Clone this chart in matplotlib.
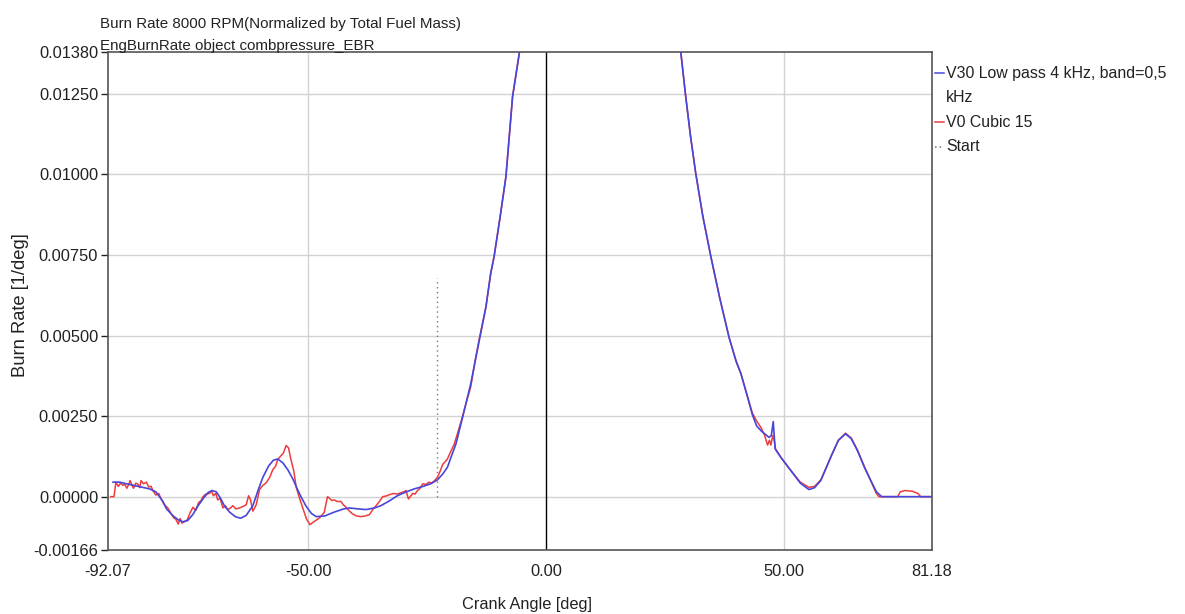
import matplotlib
matplotlib.use("Agg")
import matplotlib.pyplot as plt
from matplotlib.lines import Line2D

# Filtered burn rate (V30 low pass) - crank angle [deg] / burn rate [1/deg]
v30_angle = [-91.0, -89.6, -87.0, -84.5, -83.3, -82.0, -80.5, -79.8, -78.5, -77.3,
             -76.3, -75.3, -74.2, -73.2, -72.0, -71.0, -70.2, -69.3, -68.4, -67.6,
             -66.5, -65.3, -64.2, -63.0, -61.6, -60.5, -59.5, -58.3, -57.3, -56.4,
             -55.3, -54.2, -53.2, -52.3, -51.5, -50.4, -49.3, -48.3, -46.5, -44.5,
             -42.5, -41.3, -39.5, -37.8, -36.0, -34.7, -33.0, -31.2, -29.5, -27.7,
             -26.0, -24.2, -22.8, -21.7, -20.7, -20.0, -18.9, -17.5, -15.8, -14.0,
             -12.6, -11.6, -10.9, -9.6, -8.4, -7.0, -5.6, -5.2,
             28.0, 28.4, 29.4, 30.4, 31.5, 33.0, 34.7, 36.5, 38.5, 40.0,
             41.0, 42.2, 43.4, 44.3, 45.2, 46.9, 47.4, 47.8, 48.2, 49.5,
             51.5, 53.5, 55.3, 56.5, 57.8, 60.2, 61.5, 63.0, 64.2, 65.5,
             67.0, 68.3, 69.5, 70.6, 81.18]
v30_rate = [0.00045, 0.00045, 0.00036, 0.00028, 0.00024, 0.00015, -0.00015, -0.00037, -0.00058, -0.00072,
            -0.00078, -0.00074, -0.00055, -0.00030, -0.00005, 0.00013, 0.00019, 0.00015, -0.00005, -0.00028,
            -0.00048, -0.00062, -0.00067, -0.00058, -0.00028, 0.00020, 0.00060, 0.00095, 0.00113, 0.00117,
            0.00105, 0.00082, 0.00055, 0.00025, 0.00000, -0.00030, -0.00052, -0.00062, -0.00060, -0.00048,
            -0.00038, -0.00035, -0.00038, -0.00040, -0.00035, -0.00028, -0.00014, 0.00003, 0.00014, 0.00024,
            0.00031, 0.00040, 0.00052, 0.00070, 0.00091, 0.00120, 0.00164, 0.00247, 0.00350, 0.00485,
            0.00589, 0.00693, 0.00744, 0.00870, 0.00993, 0.01242, 0.01375, 0.01420,
            0.01420, 0.01375, 0.01242, 0.01120, 0.01004, 0.00870, 0.00744, 0.00620, 0.00495, 0.00420,
            0.00382, 0.00320, 0.00255, 0.00220, 0.00205, 0.00184, 0.00190, 0.00233, 0.00148, 0.00120,
            0.00081, 0.00042, 0.00022, 0.00028, 0.00050, 0.00133, 0.00175, 0.00195, 0.00180, 0.00143,
            0.00090, 0.00050, 0.00015, 0.00000, 0.00000]

# Unfiltered cubic-fit burn rate (V0)
v0_angle = [-91.5, -90.8, -90.4, -89.9, -89.4, -88.9, -88.5, -88.1, -87.7, -87.4,
            -87.0, -86.7, -86.2, -85.8, -85.4, -85.1, -84.6, -84.0, -83.5, -83.0,
            -82.6, -82.0, -81.4, -80.8, -80.2, -79.5, -78.9, -78.3, -77.8, -77.3,
            -76.9, -76.5, -76.0, -75.4, -74.8, -74.2, -73.6, -73.0, -72.5, -72.1,
            -71.5, -70.7, -70.3, -69.9, -69.4, -69.0, -68.5, -67.9, -67.4, -66.9,
            -66.3, -65.8, -65.2, -64.4, -63.6, -63.0, -62.5, -62.1, -61.6, -60.9,
            -60.2, -59.5, -58.8, -58.1, -57.4, -56.8, -56.4, -55.7, -55.2, -54.6,
            -54.1, -53.6, -53.0, -52.5, -51.9, -51.0, -50.3, -49.6, -49.0, -48.4,
            -47.6, -46.6, -46.2, -45.9, -45.5, -45.0, -44.5, -43.9, -43.1, -42.6,
            -42.0, -41.3, -40.6, -39.8, -38.9, -38.0, -37.1, -36.4, -35.7, -35.0,
            -34.3, -33.6, -32.9, -32.0, -31.2, -30.5, -29.9, -29.4, -28.9, -28.5,
            -28.0, -27.5, -27.0, -26.5, -25.9, -25.2, -24.6, -24.0, -23.4, -22.8,
            -22.2, -21.7, -21.2, -20.7, -20.0, -19.3, -18.6, -17.5, -16.6, -15.8,
            -14.9, -14.0, -12.6, -11.6, -10.9, -9.6, -8.4, -7.0, -5.6, -5.2,
            28.0, 28.4, 29.4, 30.4, 31.5, 33.0, 34.7, 36.5, 38.5, 40.0,
            41.0, 42.2, 43.4, 44.3, 45.2, 46.0, 46.6, 47.0, 47.3, 47.7,
            48.0, 48.3, 49.5, 51.5, 53.5, 55.3, 56.5, 57.8, 60.2, 61.5,
            63.0, 64.2, 65.5, 67.0, 68.3, 69.4, 70.0, 74.0, 74.5, 75.5,
            77.0, 78.2, 78.8, 81.18]
v0_rate = [0.00000, 0.00000, 0.00045, 0.00032, 0.00042, 0.00035, 0.00038, 0.00026, 0.00038, 0.00050,
           0.00035, 0.00026, 0.00042, 0.00039, 0.00028, 0.00050, 0.00040, 0.00045, 0.00030, 0.00032,
           0.00018, 0.00005, 0.00010, -0.00010, -0.00025, -0.00035, -0.00050, -0.00065, -0.00070, -0.00085,
           -0.00068, -0.00082, -0.00078, -0.00072, -0.00050, -0.00033, -0.00042, -0.00018, -0.00012, 0.00000,
           0.00008, 0.00010, 0.00018, 0.00003, 0.00010, -0.00010, -0.00005, -0.00035, -0.00028, -0.00040,
           -0.00035, -0.00028, -0.00038, -0.00035, -0.00030, -0.00025, 0.00003, -0.00010, -0.00045, -0.00025,
           0.00022, 0.00035, 0.00043, 0.00059, 0.00084, 0.00095, 0.00115, 0.00127, 0.00135, 0.00159,
           0.00151, 0.00115, 0.00080, 0.00030, 0.00000, -0.00040, -0.00070, -0.00087, -0.00080, -0.00074,
           -0.00066, -0.00049, -0.00020, 0.00000, -0.00005, -0.00012, -0.00010, -0.00015, -0.00015, -0.00025,
           -0.00033, -0.00045, -0.00054, -0.00060, -0.00062, -0.00060, -0.00056, -0.00040, -0.00028, -0.00015,
           0.00000, 0.00002, 0.00006, 0.00010, 0.00008, 0.00012, 0.00015, 0.00019, -0.00007, 0.00000,
           0.00010, 0.00008, 0.00019, 0.00025, 0.00040, 0.00038, 0.00045, 0.00042, 0.00050, 0.00060,
           0.00080, 0.00100, 0.00108, 0.00117, 0.00140, 0.00162, 0.00195, 0.00250, 0.00300, 0.00340,
           0.00420, 0.00490, 0.00589, 0.00693, 0.00744, 0.00870, 0.00993, 0.01242, 0.01375, 0.01420,
           0.01420, 0.01375, 0.01242, 0.01120, 0.01004, 0.00870, 0.00744, 0.00620, 0.00495, 0.00420,
           0.00382, 0.00320, 0.00260, 0.00235, 0.00215, 0.00190, 0.00160, 0.00175, 0.00160, 0.00190,
           0.00175, 0.00148, 0.00120, 0.00081, 0.00045, 0.00029, 0.00032, 0.00052, 0.00133, 0.00175,
           0.00197, 0.00182, 0.00145, 0.00092, 0.00050, 0.00012, 0.00000, 0.00000, 0.00015, 0.00019,
           0.00017, 0.00010, 0.00000, 0.00000]

# Combustion start marker
start_angle = -22.9
start_top = 0.0068

x_ticks = [-92.07, -50.00, 0.00, 50.00, 81.18]
y_ticks = [0.01380, 0.01250, 0.01000, 0.00750, 0.00500, 0.00250, 0.00000, -0.00166]
x_lim = (-92.07, 81.18)
y_lim = (-0.00166, 0.01380)

BLUE = "#4646dc"
RED = "#ee3b3b"
GRID = "#d2d2d2"
TXT = "#222222"

plt.rcParams["font.family"] = ["Liberation Sans", "DejaVu Sans"]

fig = plt.figure(figsize=(11.85, 6.14), dpi=100)
ax = fig.add_axes([0.0911, 0.1040, 0.6954, 0.8113])

for gx in [-50.0, 50.0]:
    ax.axvline(gx, color=GRID, lw=1.0, zorder=0)
for gy in y_ticks[1:-1]:
    ax.axhline(gy, color=GRID, lw=1.0, zorder=0)
ax.axvline(0.0, color="black", lw=1.0, zorder=1)

ax.plot([start_angle, start_angle], [0.0, start_top], color="#777777",
        lw=1.0, ls=(0, (1, 2.5)), zorder=2)
ax.plot(v0_angle, v0_rate, color=RED, lw=1.1, zorder=3)
ax.plot(v30_angle, v30_rate, color=BLUE, lw=1.2, zorder=4)

ax.set_xlim(*x_lim)
ax.set_ylim(*y_lim)
ax.set_xticks(x_ticks)
ax.set_xticklabels([f"{v:.2f}" for v in x_ticks])
ax.set_yticks(y_ticks)
ax.set_yticklabels([f"{v:.5f}" for v in y_ticks])
ax.tick_params(axis="both", labelsize=11.8, colors=TXT, length=5, width=1)
ax.tick_params(axis="x", length=0, pad=10)
ax.tick_params(axis="y", pad=2)
for s in ax.spines.values():
    s.set_color("#555555")
    s.set_linewidth(1.2)

fig.text(0.4445, 0.0147, "Crank Angle [deg]", fontsize=11.8, ha="center",
         va="center", color=TXT)
fig.text(0.017, 0.503, "Burn Rate [1/deg]", rotation=90, va="center", ha="center",
         fontsize=13.2, color=TXT)

fig.text(0.0845, 0.955, "Burn Rate 8000 RPM(Normalized by Total Fuel Mass)",
         fontsize=10.9, ha="left", va="baseline", color=TXT)
fig.text(0.0845, 0.918, "EngBurnRate object combpressure_EBR",
         fontsize=10.9, ha="left", va="baseline", color=TXT)

# legend drawn beside the plot area
lx0, lx1, tx = 0.789, 0.797, 0.7985
rows = [(0.881, BLUE, "-", "V30 Low pass 4 kHz, band=0,5"),
        (0.801, RED, "-", "V0 Cubic 15"),
        (0.761, "#777777", (0, (1, 2)), "Start")]
for y, c, ls, txt in rows:
    fig.add_artist(Line2D([lx0, lx1], [y, y], color=c, lw=1.1, ls=ls,
                          transform=fig.transFigure))
    fig.text(tx, y, txt, fontsize=11.4, va="center", ha="left", color=TXT)
fig.text(tx, 0.841, "kHz", fontsize=11.4, va="center", ha="left", color=TXT)

fig.savefig("out.png", dpi=100)
